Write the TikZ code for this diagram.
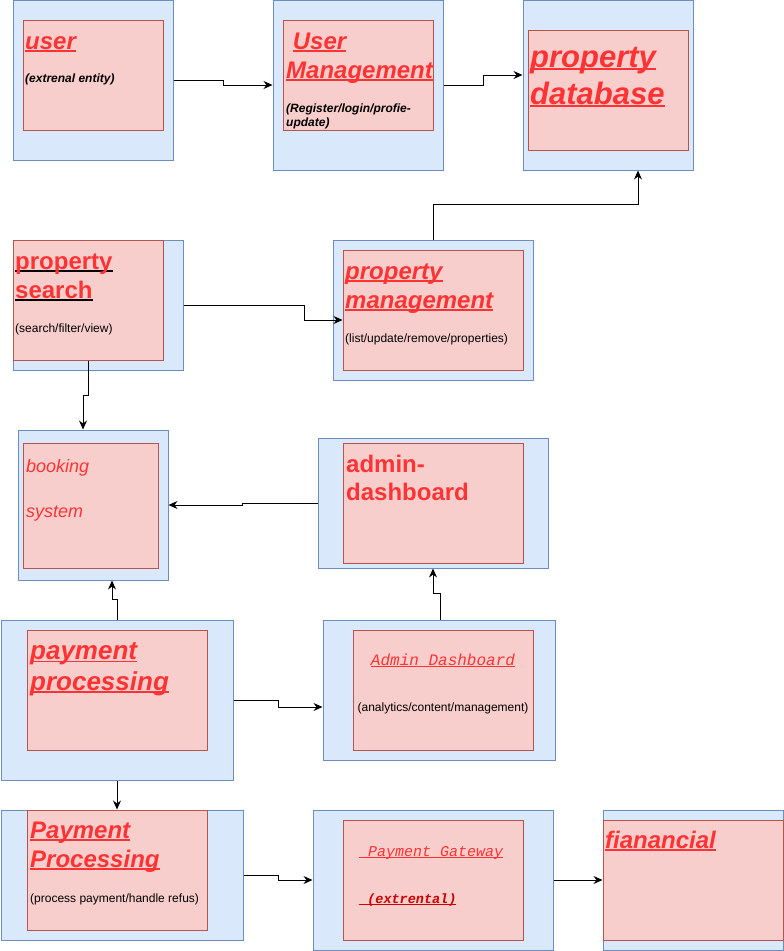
\documentclass[tikz,border=0pt]{standalone}
\usepackage{xcolor}
\usepackage{fontspec}
\setmainfont{Liberation Sans}
\newfontfamily\courierfont{Liberation Mono}
\usepackage{tikz}
\usetikzlibrary{arrows.meta,positioning,calc}

\definecolor{boxblue}{HTML}{DAE8FC}
\definecolor{lineblue}{HTML}{6C8EBF}
\definecolor{boxred}{HTML}{F8CECC}
\definecolor{linered}{HTML}{B85450}
\definecolor{txtred}{HTML}{FF3333}
\definecolor{darkred}{HTML}{CC0000}

\newcommand{\ulin}[2][txtred]{\setbox0=\hbox{#2}\rlap{\color{#1}\rule[-0.11em]{\wd0}{0.07em}}\box0}

\begin{document}
\begin{tikzpicture}[x=1pt, y=-1pt,
    outerbox/.style={draw=lineblue, fill=boxblue, line width=1pt, inner sep=0pt},
    innerbox/.style={draw=linered, fill=boxred, line width=1pt, inner sep=0pt},
    title/.style={anchor=base west, inner sep=0pt, align=left, text=txtred, font=\bfseries\itshape\fontsize{24}{29}\selectfont},
    note/.style={anchor=base west, inner sep=0pt, align=left, text=black, font=\fontsize{12}{14}\selectfont},
    flow/.style={draw, line width=1pt, -{Stealth[length=9pt,width=8pt]}}]
		\useasboundingbox (0,0) rectangle (784,951);

		\node[outerbox, minimum width=160pt, minimum height=160pt] (user) at (93,80) {};
		\node[innerbox, minimum width=140pt, minimum height=110pt] (userin) at (93,75) {};
		\node[title] (usert) at (25,49) {\ulin{user}};
		\node[note, font=\bfseries\itshape\fontsize{12}{14}\selectfont] (usern) at (25,82) {(extrenal entity)};

		\node[outerbox, minimum width=170pt, minimum height=170pt] (umgmt) at (358,85) {};
		\node[innerbox, minimum width=150pt, minimum height=110pt] (umgmtin) at (358,75) {};
		\node[title] (umgmtt) at (286,78) {\ \ulin{User}\\\ulin{Management}};
		\node[note, font=\bfseries\itshape\fontsize{12}{13.5}\selectfont] (umgmtn) at (286,126) {(Register/login/profie-\\update)};

		\node[outerbox, minimum width=170pt, minimum height=170pt] (db) at (608,85) {};
		\node[innerbox, minimum width=160pt, minimum height=120pt] (dbin) at (608,90) {};
		\node[title, font=\bfseries\itshape\fontsize{31}{37}\selectfont] (dbt) at (530,104) {\ulin{property}\\\ulin{database}};

		\node[outerbox, minimum width=170pt, minimum height=130pt] (psearch) at (98,305) {};
		\node[innerbox, minimum width=150pt, minimum height=120pt] (psearchin) at (88,300) {};
		\node[title, font=\bfseries\fontsize{24}{29}\selectfont] (psearcht) at (15,298) {\ulin[black]{property}\\\ulin[black]{search}};
		\node[note] (psearchn) at (15,332) {(search/filter/view)};

		\node[outerbox, minimum width=200pt, minimum height=140pt] (pmgmt) at (433,310) {};
		\node[innerbox, minimum width=180pt, minimum height=120pt] (pmgmtin) at (433,310) {};
		\node[title, font=\bfseries\itshape\fontsize{24}{28.5}\selectfont] (pmgmtt) at (345,308) {\ulin{property}\\\ulin{management}};
		\node[note] (pmgmtn) at (345,342) {(list/update/remove/properties)};

		\node[outerbox, minimum width=150pt, minimum height=150pt] (booking) at (93,505) {};
		\node[innerbox, minimum width=135pt, minimum height=125pt] (bookingin) at (90.5,505.5) {};
		\node[title, font=\itshape\fontsize{18}{22.5}\selectfont] (bookingt) at (26,517) {booking\\[22.5pt]system};

		\node[outerbox, minimum width=230pt, minimum height=130pt] (admin) at (433,503) {};
		\node[innerbox, minimum width=180pt, minimum height=120pt] (adminin) at (433,503) {};
		\node[title, font=\bfseries\fontsize{24}{28}\selectfont] (admint) at (346,500) {admin-\\dashboard};

		\node[outerbox, minimum width=232pt, minimum height=160pt] (payproc) at (117,700) {};
		\node[innerbox, minimum width=180pt, minimum height=120pt] (payprocin) at (117,690) {};
		\node[title, font=\bfseries\itshape\fontsize{26}{30.5}\selectfont] (payproct) at (30,690) {\ulin{payment}\\\ulin{processing}};

		\node[outerbox, minimum width=232pt, minimum height=140pt] (admdash) at (439,690) {};
		\node[innerbox, minimum width=180pt, minimum height=120pt] (admdashin) at (443,690) {};
		\node[title, anchor=base, font=\courierfont\itshape\fontsize{16}{19}\selectfont] (admdasht) at (443,665) {\ulin{Admin Dashboard}};
		\node[note, anchor=base] (admdashn) at (443,711) {(analytics/content/management)};

		\node[outerbox, minimum width=242pt, minimum height=130pt] (payproc2) at (122,875) {};
		\node[innerbox, minimum width=180pt, minimum height=120pt] (payproc2in) at (117,870) {};
		\node[title, font=\bfseries\itshape\fontsize{24}{29}\selectfont] (payproc2t) at (30,867) {\ulin{Payment}\\\ulin{Processing}};
		\node[note] (payproc2n) at (30,902) {(process payment/handle refus)};

		\node[outerbox, minimum width=240pt, minimum height=140pt] (gateway) at (433,880) {};
		\node[innerbox, minimum width=180pt, minimum height=120pt] (gatewayin) at (433,880) {};
		\node[title, font=\courierfont\itshape\fontsize{15}{18}\selectfont] (gatewayt) at (359,856) {\ulin{\ Payment Gateway}};
		\node[title, text=darkred, font=\courierfont\bfseries\itshape\fontsize{13.5}{16}\selectfont] (gatewayn) at (359,903) {\ulin[darkred]{\ (extrental)}};

		\node[outerbox, minimum width=180pt, minimum height=140pt] (financial) at (693,880) {};
		\node[innerbox, minimum width=180pt, minimum height=120pt] (financialin) at (693,880) {};
		\node[title] (financialt) at (605,848) {\ulin{fianancial}};

		\draw[flow] (user.east) -- ++(50,0) |- (umgmt.west);
		\draw[flow] (umgmt.east) -- ++(40,0) |- ([yshift=10pt]db.west);
		\draw[flow] (pmgmt.north) -- ++(0,-35) -| ([xshift=30pt]db.south);
		\draw[flow] (psearch.east) -- ++(121,0) |- ([yshift=-10pt]pmgmtin.west);
		\draw[flow] (psearchin.south) -- ++(0,35) -| ([xshift=-10pt]booking.north);
		\draw[flow] (admin.west) -- ++(-75,0) |- (booking.east);
		\draw[flow] (payproc.north) -- ++(0,-20) -| ([xshift=19pt]booking.south);
		\draw[flow] ([xshift=1.5pt]admdash.north) -- ++(0,-26) -| (admin.south);
		\draw[flow] (payproc.east) -- ++(45,0) |- ([yshift=-17pt]admdash.west);
		\draw[flow] (payproc.south) -- (payproc.south |- payproc2.north);
		\draw[flow] (payproc2.east) -- ++(35,0) |- (gateway.west);
		\draw[flow] (gateway.east) -- (financial.west);
	\end{tikzpicture}
\end{document}
